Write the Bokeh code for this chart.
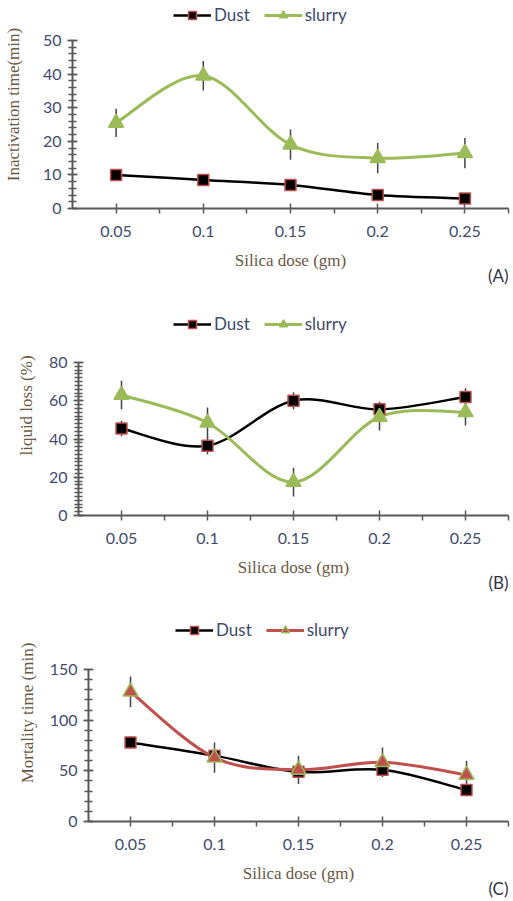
from bokeh.plotting import figure
from bokeh.models import Legend, LegendItem, FixedTicker, Range1d, Title
from bokeh.layouts import column, row
from bokeh.embed import file_html
from bokeh.resources import INLINE

# ---------------- data ----------------
doses = [0.05, 0.1, 0.15, 0.2, 0.25]
dose_labels = ["0.05", "0.1", "0.15", "0.2", "0.25"]

a_dust = [10, 8.5, 7, 4, 3]
a_dust_err = [1, 1, 1, 1, 1]
a_slurry = [25.5, 39.5, 19, 15, 16.5]
a_slurry_err = [4.2, 4.4, 4.5, 4.5, 4.5]

b_dust = [45.5, 36.5, 60, 55.5, 62]
b_dust_err = [4, 4.5, 4.5, 4, 4.5]
b_slurry = [63, 48.5, 17.5, 51.5, 54]
b_slurry_err = [7.5, 8, 7.5, 7, 7]

c_dust = [78, 65, 49, 51, 31]
c_dust_err = [6, 6, 5, 5, 6]
c_slurry = [128, 63, 51, 58.5, 46]
c_slurry_err = [15, 15, 14, 14.5, 14]

GREEN = "#9BBB59"
RED = "#C0504D"
TICK_COL = "#3F4B6E"
TITLE_COL = "#6A5843"
AXIS_COL = "#595959"


def bez(xs, ys, t=1.0 / 6):
    n = len(xs)
    out = dict(x0=[], y0=[], x1=[], y1=[], cx0=[], cy0=[], cx1=[], cy1=[])
    for i in range(n - 1):
        xm, ym = (xs[i - 1], ys[i - 1]) if i > 0 else (xs[i], ys[i])
        xp, yp = (xs[i + 2], ys[i + 2]) if i + 2 < n else (xs[i + 1], ys[i + 1])
        out["x0"].append(xs[i]); out["y0"].append(ys[i])
        out["x1"].append(xs[i + 1]); out["y1"].append(ys[i + 1])
        out["cx0"].append(xs[i] + (xs[i + 1] - xm) * t)
        out["cy0"].append(ys[i] + (ys[i + 1] - ym) * t)
        out["cx1"].append(xs[i + 1] - (xp - xs[i]) * t)
        out["cy1"].append(ys[i + 1] - (yp - ys[i]) * t)
    return out


def panel(ylabel, ymax, yint, nminor, dust, dust_err, slurry, slurry_err,
          slurry_line, slurry_fill, slurry_outline, tag,
          height, frame_h, top_gap, b_left, lab_standoff, leg_loc):
    # frame spans from figure top to the x axis; the y axis is drawn only
    # over [0, ymax], the space above holds the legend
    y_end = ymax * frame_h / (frame_h - top_gap)
    p = figure(width=512, height=height, output_backend="svg",
               toolbar_location=None,
               x_range=Range1d(0.025, 0.275), y_range=Range1d(0, y_end),
               min_border_top=0, min_border_bottom=height - frame_h,
               min_border_left=b_left, min_border_right=4)
    p.outline_line_color = None
    p.xgrid.visible = False
    p.ygrid.visible = False

    # x axis
    mids = [(doses[i] + doses[i + 1]) / 2 for i in range(len(doses) - 1)]
    mids.append(doses[-1] + (doses[-1] - doses[-2]) / 2)
    p.xaxis.ticker = FixedTicker(ticks=doses, minor_ticks=mids)
    p.xaxis.major_label_overrides = {d: l for d, l in zip(doses, dose_labels)}
    p.xaxis.axis_label = "Silica dose (gm)"

    # y axis
    majors = [k * yint for k in range(int(ymax / yint) + 1)]
    step = yint / nminor
    minors = [k * step for k in range(int(round(ymax / step)) + 1)]
    p.yaxis.ticker = FixedTicker(ticks=majors, minor_ticks=minors)
    p.yaxis.bounds = (0, ymax)
    p.yaxis.axis_label = ylabel
    p.yaxis.axis_label_standoff = lab_standoff
    p.xaxis.axis_label_standoff = 11

    for ax in (p.xaxis, p.yaxis):
        ax.axis_line_color = AXIS_COL
        ax.axis_line_width = 2
        ax.major_tick_line_color = AXIS_COL
        ax.minor_tick_line_color = AXIS_COL
        ax.major_tick_line_width = 1.5
        ax.minor_tick_line_width = 1.5
        ax.major_label_text_font = "Lato"
        ax.major_label_text_font_size = "16px"
        ax.major_label_text_color = TICK_COL
        ax.axis_label_text_font = "Liberation Serif"
        ax.axis_label_text_font_size = "17px"
        ax.axis_label_text_font_style = "normal"
        ax.axis_label_text_color = TITLE_COL
    p.xaxis.major_tick_in = 5
    p.xaxis.major_tick_out = 5
    p.xaxis.minor_tick_in = 0
    p.xaxis.minor_tick_out = 5
    p.xaxis.major_label_standoff = 12
    p.yaxis.major_tick_in = 5
    p.yaxis.major_tick_out = 5
    p.yaxis.minor_tick_in = 4
    p.yaxis.minor_tick_out = 4
    p.yaxis.major_label_standoff = 6

    # curves
    r_dl = p.bezier(**bez(doses, dust), line_color="black", line_width=2.5)
    r_sl = p.bezier(**bez(doses, slurry), line_color=slurry_line, line_width=3)

    # error bars
    p.segment(x0=doses, x1=doses,
              y0=[v - e for v, e in zip(dust, dust_err)],
              y1=[v + e for v, e in zip(dust, dust_err)],
              line_color="#444444", line_width=1.5)
    p.segment(x0=doses, x1=doses,
              y0=[v - e for v, e in zip(slurry, slurry_err)],
              y1=[v + e for v, e in zip(slurry, slurry_err)],
              line_color="#444444", line_width=1.5)

    r_dm = p.scatter(doses, dust, marker="square", size=11,
                     fill_color="black", line_color=RED, line_width=1.5)
    r_sm = p.scatter(doses, slurry, marker="triangle", size=15,
                     fill_color=slurry_fill, line_color=slurry_outline,
                     line_width=1.5)

    leg = Legend(items=[LegendItem(label="Dust", renderers=[r_dl, r_dm]),
                        LegendItem(label="slurry", renderers=[r_sl, r_sm])],
                 location=leg_loc, orientation="horizontal",
                 glyph_width=38, glyph_height=20, label_standoff=3,
                 spacing=14, padding=0, margin=0,
                 border_line_alpha=0, background_fill_alpha=0,
                 label_text_font="Lato", label_text_font_size="17px",
                 label_text_color=TICK_COL)
    p.add_layout(leg, "center")

    t = Title(text=tag, align="right", text_font="Lato",
              text_font_size="17px", text_color="#333344",
              text_font_style="normal", standoff=-20)
    p.add_layout(t, "below")
    return p


pa = panel("Inactivation time(min)", 50, 10, 5, a_dust, a_dust_err,
           a_slurry, a_slurry_err, GREEN, GREEN, GREEN, "(A)",
           295, 208, 40, 72, 17, (101, 183))
pb = panel("liquid loss (%)", 80, 20, 10, b_dust, b_dust_err,
           b_slurry, b_slurry_err, GREEN, GREEN, GREEN, "(B)",
           309, 220, 67, 78, 10, (95, 181))
pc = panel("Mortality time (min)", 150, 50, 5, c_dust, c_dust_err,
           c_slurry, c_slurry_err, RED, RED, GREEN, "(C)",
           295, 217, 65, 88, 10, (87, 181))

layout = column(row(pa), row(pb), row(pc), spacing=0)
open("out.html", "w").write(file_html(layout, INLINE))
